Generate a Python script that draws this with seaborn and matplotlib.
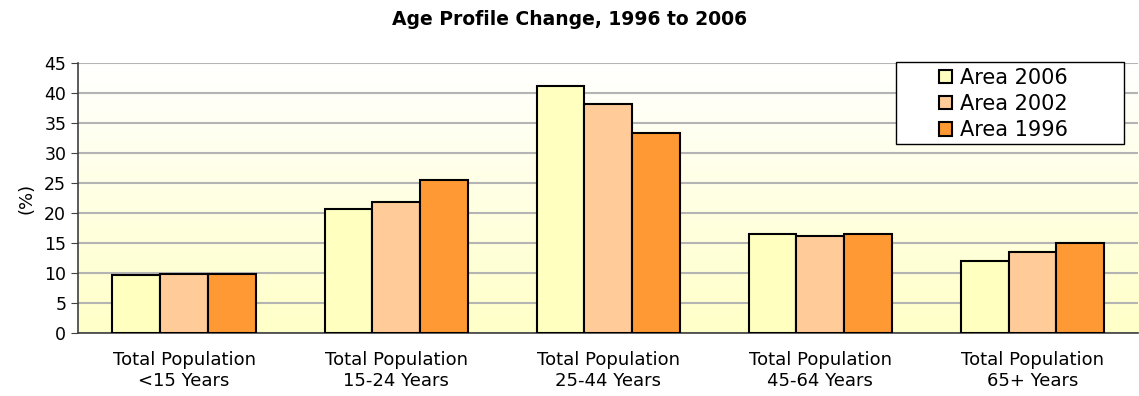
import numpy as np
import pandas as pd
import seaborn as sns
import matplotlib.pyplot as plt
from matplotlib.colors import LinearSegmentedColormap
from matplotlib.patches import Rectangle

categories = ["Total Population\n<15 Years", "Total Population\n15-24 Years",
              "Total Population\n25-44 Years", "Total Population\n45-64 Years",
              "Total Population\n65+ Years"]
series = ["Area 2006", "Area 2002", "Area 1996"]
area_2006 = [9.7, 20.7, 41.2, 16.5, 12.0]
area_2002 = [9.9, 21.8, 38.2, 16.2, 13.5]
area_1996 = [9.9, 25.5, 33.4, 16.5, 15.0]
colors = ["#FFFFC0", "#FFCC99", "#FF9933"]

df = pd.DataFrame({
    "Category": categories * 3,
    "Series": [s for s in series for _ in categories],
    "Value": area_2006 + area_2002 + area_1996,
})

sns.set_style("white")
plt.rcParams["font.family"] = ["DejaVu Sans"]
plt.rcParams["text.color"] = "black"
plt.rcParams["axes.labelcolor"] = "black"
plt.rcParams["xtick.color"] = "black"
plt.rcParams["ytick.color"] = "black"

fig = plt.figure(figsize=(11.39, 3.96), dpi=100)
ax = fig.add_axes([0.0685, 0.159, 0.931, 0.682])

# background gradient white -> pale yellow
cmap = LinearSegmentedColormap.from_list("bg", ["#FFFFFF", "#FFFFC8"])
grad = np.linspace(0, 1, 256).reshape(-1, 1)
ax.imshow(grad, aspect="auto", cmap=cmap, extent=[0, 1, 0, 1],
          transform=ax.transAxes, zorder=0)

sns.barplot(data=df, x="Category", y="Value", hue="Series", palette=colors,
            width=0.675, edgecolor="black", linewidth=1.5, ax=ax, zorder=3,
            saturation=1)

ax.set_xlim(-0.5, 4.5)
ax.set_ylim(0, 45)
ax.set_yticks(range(0, 46, 5))
ax.yaxis.grid(True, color="#B4B4B4", linewidth=1.5, zorder=1)
ax.set_axisbelow(True)

for s in ["top", "right"]:
    ax.spines[s].set_visible(False)
for s in ["left", "bottom"]:
    ax.spines[s].set_color("#404040")
    ax.spines[s].set_linewidth(1.2)

ax.set_xticks(np.arange(-0.5, 5, 1), minor=True)
ax.tick_params(axis="x", which="major", length=0, labelsize=13, pad=13)
ax.tick_params(axis="x", which="minor", length=5, direction="out", color="#404040")
ax.tick_params(axis="y", length=5, direction="out", color="#404040", labelsize=12.5, left=True)

ax.set_xlabel("")
ax.set_ylabel("(%)", fontsize=13, labelpad=6)
fig.suptitle("Age Profile Change, 1996 to 2006", fontsize=13.5, fontweight="bold", y=0.975)

# legend frame drawn separately so the entries sit centred in a wide box
frame = Rectangle((0.771, 0.70), 0.215, 0.305, transform=ax.transAxes,
                  facecolor="white", edgecolor="black", linewidth=1.0,
                  zorder=4.5, clip_on=False)
ax.add_patch(frame)
leg = ax.legend(loc="upper left", bbox_to_anchor=(0.812, 0.982), fontsize=15,
                frameon=False, handlelength=0.6, handleheight=0.6, handletextpad=0.4,
                labelspacing=0.3, borderpad=0, borderaxespad=0)
leg.set_zorder(5)

fig.savefig("out.png", dpi=100, facecolor="white")
